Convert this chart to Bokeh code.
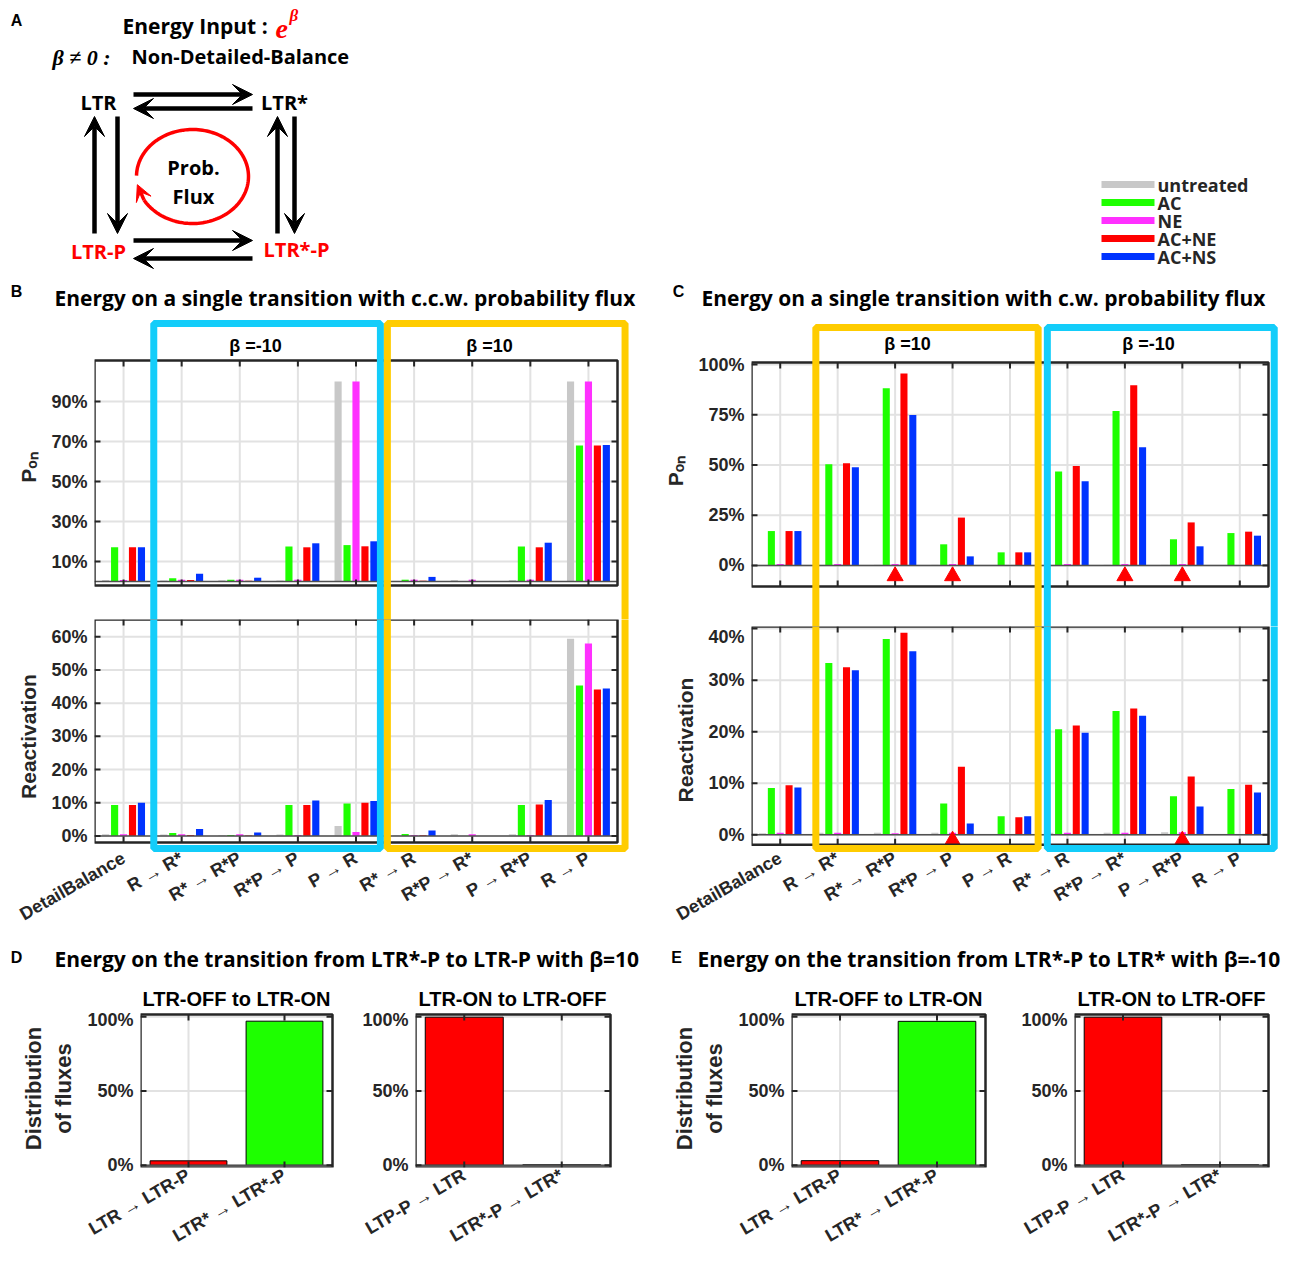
import math
import numpy as np
from bokeh.plotting import figure
from bokeh.layouts import column, row
from bokeh.models import (Range1d, FixedTicker, BoxAnnotation, Arrow, VeeHead, ColumnDataSource)
from bokeh.embed import file_html
from bokeh.resources import INLINE
from bokeh.core.properties import value

# ---------------- data ----------------
series_names = ["untreated", "AC", "NE", "AC+NE", "AC+NS"]
series_colors = ["#c8c8c8", "#1eff00", "#ff30ff", "#ff0000", "#0033ff"]

transitions = ["DetailBalance", "R → R*", "R* → R*P", "R*P → P", "P → R",
               "R* → R", "R*P → R*", "P → R*P", "R → P"]
cat_pos = [1, 2, 3, 4, 5, 6, 7, 8, 9]

# Panel B (c.c.w. flux) -- P_on, %
b_pon_untreated = [0.7, 0.5, 0.6, 0.5, 100.0, 0.3, 0.7, 0.7, 100.0]
b_pon_ac        = [17.1, 1.6, 0.9, 17.5, 18.2, 0.9, 0.0, 17.5, 68.0]
b_pon_ne        = [0.8, 0.9, 0.9, 0.9, 100.0, 0.9, 0.9, 0.9, 100.0]
b_pon_acne      = [17.1, 0.8, 0.4, 17.1, 17.6, 0.4, 0.0, 17.1, 68.0]
b_pon_acns      = [17.1, 3.9, 1.9, 19.1, 20.1, 2.3, 0.2, 19.4, 68.2]
# Panel B -- Reactivation, %
b_re_untreated = [0.5, 0.4, 0.3, 0.4, 3.0, 0.3, 0.5, 0.5, 59.4]
b_re_ac        = [9.3, 0.9, 0.3, 9.3, 9.8, 0.6, 0.0, 9.3, 45.3]
b_re_ne        = [0.5, 0.5, 0.5, 0.3, 1.2, 0.3, 0.5, 0.3, 58.0]
b_re_acne      = [9.3, 0.3, 0.1, 9.3, 10.0, 0.2, 0.0, 9.5, 44.1]
b_re_acns      = [10.0, 2.1, 1.0, 10.7, 10.5, 1.6, 0.0, 10.8, 44.4]

# Panel C (c.w. flux) -- P_on, %
c_pon_untreated = [0.0, 0.0, 0.3, 0.3, 0.0, 0.0, 0.3, 0.3, 0.0]
c_pon_ac        = [17.1, 50.3, 88.2, 10.5, 6.5, 46.8, 76.9, 13.0, 16.1]
c_pon_ne        = [0.7, 0.7, 0.7, 0.7, 0.0, 0.7, 0.7, 0.7, 0.0]
c_pon_acne      = [17.1, 50.8, 95.5, 23.8, 6.5, 49.5, 89.7, 21.4, 16.8]
c_pon_acns      = [17.1, 48.8, 74.9, 4.5, 6.5, 41.9, 58.8, 9.5, 14.8]
# Panel C -- Reactivation, %
c_re_untreated = [0.3, 0.4, 0.4, 0.4, 0.0, 0.4, 0.4, 0.5, 0.0]
c_re_ac        = [9.1, 33.3, 38.0, 6.1, 3.6, 20.5, 24.0, 7.5, 8.9]
c_re_ne        = [0.4, 0.4, 0.3, 0.4, 0.0, 0.4, 0.4, 0.5, 0.0]
c_re_acne      = [9.6, 32.5, 39.2, 13.2, 3.4, 21.2, 24.5, 11.3, 9.7]
c_re_acns      = [9.2, 31.9, 35.6, 2.2, 3.6, 19.8, 23.1, 5.5, 8.2]
# red triangle markers (category positions)
c_pon_marked = [3, 4, 7, 8]
c_re_marked = [4, 8]

# axis ticks
b_pon_yticks = [10, 30, 50, 70, 90]
b_re_yticks = [0, 10, 20, 30, 40, 50, 60]
c_pon_yticks = [0, 25, 50, 75, 100]
c_re_yticks = [0, 10, 20, 30, 40]
flux_yticks = [0, 50, 100]

# Panels D / E -- distribution of fluxes, %
off_on_labels = ["LTR → LTR-P", "LTR* → LTR*-P"]
on_off_labels = ["LTP-P → LTR", "LTR*-P → LTR*"]
d_off_on = [3.0, 97.0]
d_on_off = [99.7, 0.3]
e_off_on = [3.1, 96.9]
e_on_off = [99.7, 0.3]
off_on_colors = ["#ff0000", "#1eff00"]
on_off_colors = ["#ff0000", "#c8c8c8"]

# ---------------- style ----------------
DARK = "#262626"
GRID = "#e2e2e2"
CYAN = "#13cdfa"
YELLOW = "#ffcc00"
RED = "#ff0000"
TICK_FONT = "Liberation Sans"
TITLE_FONT = "Open Sans"
GROUP_SLOT = 0.154
BAR_W = 0.123
TICK_LEN = 6


class Geo:
    """Maps page pixels <-> data units for one panel (axes box + figure frame)."""

    def __init__(self, canvas, L, B, axes_px, lims):
        cx0, cy0, cw, ch = canvas
        self.w, self.h = cw, ch
        self.fl, self.fr = cx0 + L, cx0 + cw
        self.ft, self.fb = cy0, cy0 + ch - B
        al, ar, at, ab = axes_px
        x0, x1, y0, y1 = lims
        self.sx = (ar - al) / (x1 - x0)
        self.sy = (ab - at) / (y1 - y0)
        self.al, self.ab, self.x0, self.y0 = al, ab, x0, y0

    def dx(self, px):
        return self.x0 + (px - self.al) / self.sx

    def dy(self, py):
        return self.y0 + (self.ab - py) / self.sy


def style_axis(ax, size="18px"):
    ax.axis_line_color = None
    ax.major_tick_in = 0
    ax.major_tick_out = 0
    ax.minor_tick_line_color = None
    ax.major_label_text_font = TICK_FONT
    ax.major_label_text_font_style = "bold"
    ax.major_label_text_color = DARK
    ax.major_label_text_font_size = size
    ax.axis_label_text_font = TICK_FONT
    ax.axis_label_text_font_style = "bold"
    ax.axis_label_text_color = DARK
    ax.axis_label_text_font_size = "21px"


def panel(canvas, L, B, axes_px, lims, xticks, yticks, ylabel, xtick_labels, xstand=3):
    g = Geo(canvas, L, B, axes_px, lims)
    p = figure(width=g.w, height=g.h,
               x_range=Range1d(g.dx(g.fl), g.dx(g.fr)), y_range=Range1d(g.dy(g.fb), g.dy(g.ft)),
               output_backend="svg", toolbar_location=None, tools="", title=None,
               min_border_left=L, min_border_right=0, min_border_top=0, min_border_bottom=B)
    p.outline_line_color = None
    p.grid.visible = False
    xa, ya = p.xaxis[0], p.yaxis[0]
    style_axis(xa)
    style_axis(ya)
    ya.ticker = FixedTicker(ticks=list(yticks))
    ya.major_label_overrides = {v: f"{v}%" for v in yticks}
    ya.major_label_standoff = 7
    ya.axis_label = ylabel
    ya.axis_label_standoff = 8
    if xtick_labels is None:
        xa.visible = False
    else:
        xa.ticker = FixedTicker(ticks=list(xticks))
        xa.major_label_overrides = {v: lab for v, lab in zip(xticks, xtick_labels)}
        xa.major_label_orientation = math.pi / 6
        xa.major_label_standoff = xstand
    x0, x1, y0, y1 = lims
    n, m = len(xticks), len(yticks)
    p.segment(x0=list(xticks), x1=list(xticks), y0=[y0] * n, y1=[y1] * n,
              line_color=GRID, line_width=2)
    p.segment(x0=[x0] * m, x1=[x1] * m, y0=list(yticks), y1=list(yticks),
              line_color=GRID, line_width=2)
    return p, g


def finish(p, g, lims, xticks, yticks):
    x0, x1, y0, y1 = lims
    tx, ty = TICK_LEN / g.sx, TICK_LEN / g.sy
    n, m = len(xticks), len(yticks)
    p.segment(x0=[x0], x1=[x1], y0=[0], y1=[0], line_color="#505050", line_width=1.5)
    kw = dict(line_color=DARK, line_width=2)
    p.segment(x0=list(xticks), x1=list(xticks), y0=[y0] * n, y1=[y0 + ty] * n, **kw)
    p.segment(x0=list(xticks), x1=list(xticks), y0=[y1] * n, y1=[y1 - ty] * n, **kw)
    p.segment(x0=[x0] * m, x1=[x0 + tx] * m, y0=list(yticks), y1=list(yticks), **kw)
    p.segment(x0=[x1] * m, x1=[x1 - tx] * m, y0=list(yticks), y1=list(yticks), **kw)
    p.add_layout(BoxAnnotation(left=x0, right=x1, bottom=y0, top=y1, fill_color=None,
                               fill_alpha=0, line_color=DARK, line_alpha=1, line_width=2.5))


def grouped_bars(p, series_vals):
    n = len(series_vals)
    for k, (vals, color) in enumerate(zip(series_vals, series_colors)):
        off = (k - (n - 1) / 2) * GROUP_SLOT
        src = ColumnDataSource(dict(x=[c + off for c in cat_pos], top=vals))
        p.vbar(x="x", top="top", bottom=0, width=BAR_W, source=src,
               fill_color=color, line_color=None)


def colored_box(p, left, right, top, bottom, color):
    p.add_layout(BoxAnnotation(left=left, right=right, top=top, bottom=bottom,
                               fill_color=None, fill_alpha=0, line_color=color,
                               line_alpha=1, line_width=7))


def beta_label(p, g, px, py, text):
    p.text(x=[g.dx(px)], y=[g.dy(py)], text=[text], text_font=value(TICK_FONT),
           text_font_style="bold", text_font_size="18px", text_align="center",
           text_baseline="middle", text_color="black")


# ---------------- panel B ----------------
B_AX_X = (94, 617)
bt_lims = (0.5, 9.5, -2, 110.5)
bt, g = panel((0, 315, 645, 304), 94, 0, (*B_AX_X, 360, 585), bt_lims, cat_pos, b_pon_yticks, "Pₒₙ", None)
grouped_bars(bt, [b_pon_untreated, b_pon_ac, b_pon_ne, b_pon_acne, b_pon_acns])
finish(bt, g, bt_lims, cat_pos, b_pon_yticks)
beta_label(bt, g, 255, 345, "β =-10")
beta_label(bt, g, 489, 345, "β =10")
colored_box(bt, 1.52, 5.42, g.dy(323), g.dy(700), CYAN)
colored_box(bt, 5.54, 9.63, g.dy(323), g.dy(700), YELLOW)

bb_lims = (0.5, 9.5, -2, 65.2)
bb, g = panel((0, 619, 645, 316), 94, 81, (*B_AX_X, 619, 843), bb_lims, cat_pos, b_re_yticks, "Reactivation", transitions)
grouped_bars(bb, [b_re_untreated, b_re_ac, b_re_ne, b_re_acne, b_re_acns])
finish(bb, g, bb_lims, cat_pos, b_re_yticks)
colored_box(bb, 1.52, 5.42, g.dy(500), g.dy(849), CYAN)
colored_box(bb, 5.54, 9.63, g.dy(500), g.dy(849), YELLOW)

# ---------------- panel C ----------------
C_AX_X = (751, 1268)
ct_lims = (0.5, 9.5, -10.5, 101)
ct, g = panel((645, 315, 648, 311), 106, 0, (*C_AX_X, 362, 586), ct_lims, cat_pos, c_pon_yticks, "Pₒₙ", None)
grouped_bars(ct, [c_pon_untreated, c_pon_ac, c_pon_ne, c_pon_acne, c_pon_acns])
finish(ct, g, ct_lims, cat_pos, c_pon_yticks)
ct.scatter(x=c_pon_marked, y=[-5.3] * len(c_pon_marked), marker="triangle", size=16,
           fill_color=RED, line_color=RED)
beta_label(ct, g, 907, 343, "β =10")
beta_label(ct, g, 1148, 343, "β =-10")
colored_box(ct, 1.62, 5.49, g.dy(327), g.dy(700), YELLOW)
colored_box(ct, 5.65, 9.60, g.dy(327), g.dy(700), CYAN)

cb_lims = (0.5, 9.5, -1.9, 40.4)
cb, g = panel((645, 626, 648, 309), 106, 78, (*C_AX_X, 626, 848), cb_lims, cat_pos, c_re_yticks, "Reactivation", transitions)
grouped_bars(cb, [c_re_untreated, c_re_ac, c_re_ne, c_re_acne, c_re_acns])
finish(cb, g, cb_lims, cat_pos, c_re_yticks)
cb.scatter(x=c_re_marked, y=[-1.1] * len(c_re_marked), marker="triangle", size=16,
           fill_color=RED, line_color=RED)
colored_box(cb, 1.62, 5.49, g.dy(500), g.dy(852), YELLOW)
colored_box(cb, 5.65, 9.60, g.dy(500), g.dy(852), CYAN)

# ---------------- panels D / E ----------------
flux_lims = (0.5, 2.5, -1.5, 101.5)


def flux_panel(canvas, L, axes_x, vals, colors, labels, ylabel):
    p, g = panel(canvas, L, 93, (*axes_x, 1014, 1167), flux_lims, [1, 2], flux_yticks, ylabel, labels,
                 xstand=6)
    src = ColumnDataSource(dict(x=[1, 2], top=vals, color=colors))
    p.vbar(x="x", top="top", bottom=0, width=0.8, source=src, fill_color="color",
           line_color="black", line_width=1)
    finish(p, g, flux_lims, [1, 2], flux_yticks)
    p.yaxis[0].axis_label_text_font_size = "22px"
    return p


d1 = flux_panel((0, 1009, 345, 251), 140, (140, 332), d_off_on, off_on_colors, off_on_labels, "Distribution\nof fluxes")
d2 = flux_panel((345, 1009, 300, 251), 70, (415, 610), d_on_off, on_off_colors, on_off_labels, "")
e1 = flux_panel((645, 1009, 355, 251), 146, (791, 985), e_off_on, off_on_colors, off_on_labels, "Distribution\nof fluxes")
e2 = flux_panel((1000, 1009, 293, 251), 74, (1074, 1268), e_on_off, on_off_colors, on_off_labels, "")

# header strip for D / E
hdr = figure(width=1293, height=74, x_range=Range1d(0, 1293), y_range=Range1d(1009, 935),
             x_axis_type=None, y_axis_type=None, output_backend="svg", toolbar_location=None,
             tools="", min_border=0, title=None)
hdr.outline_line_color = None
hdr.grid.visible = False
hdr.text(x=[16, 676], y=[957, 957], text=["D", "E"], text_font=value(TICK_FONT),
         text_font_style="bold", text_font_size="16px", text_baseline="middle", text_align="center")
hdr.text(x=[54, 697], y=[958, 958],
         text=["Energy on the transition from LTR*-P to LTR-P with β=10",
               "Energy on the transition from LTR*-P to LTR* with β=-10"],
         text_font=value(TITLE_FONT), text_font_style="bold", text_font_size="21px",
         text_baseline="middle", text_align="left")
sub_titles = ["LTR-OFF to LTR-ON", "LTR-ON to LTR-OFF", "LTR-OFF to LTR-ON", "LTR-ON to LTR-OFF"]
hdr.text(x=[236, 512, 888, 1171], y=[998] * 4, text=sub_titles, text_font=value(TICK_FONT),
         text_font_style="bold", text_font_size="20px", text_baseline="middle", text_align="center")

# ---------------- panel A (schematic) + legend + B/C headings ----------------
top = figure(width=1293, height=315, x_range=Range1d(0, 1293), y_range=Range1d(315, 0),
             x_axis_type=None, y_axis_type=None, output_backend="svg", toolbar_location=None,
             tools="", min_border=0, title=None)
top.outline_line_color = None
top.grid.visible = False

top.text(x=[16, 16, 678], y=[20, 291, 291], text=["A", "B", "C"], text_font=value(TICK_FONT),
         text_font_style="bold", text_font_size="16px", text_baseline="middle", text_align="center")
top.text(x=[54, 701], y=[297, 297],
         text=["Energy on a single transition with c.c.w. probability flux",
               "Energy on a single transition with c.w. probability flux"],
         text_font=value(TITLE_FONT), text_font_style="bold", text_font_size="21px",
         text_baseline="middle", text_align="left")

top.text(x=[122], y=[25], text=["Energy Input :"], text_font=value(TITLE_FONT),
         text_font_style="bold", text_font_size="21px", text_baseline="middle")
top.text(x=[275], y=[28], text=["e"], text_font=value("Liberation Serif"), text_font_style="bold italic",
         text_font_size="28px", text_baseline="middle", text_color=RED)
top.text(x=[289], y=[15], text=["β"], text_font=value("Liberation Serif"), text_font_style="bold italic",
         text_font_size="17px", text_baseline="middle", text_color=RED)
top.text(x=[52], y=[57], text=["β ≠ 0 :"], text_font=value("Liberation Serif"), text_font_style="bold italic",
         text_font_size="22px", text_baseline="middle")
top.text(x=[131], y=[56], text=["Non-Detailed-Balance"], text_font=value(TITLE_FONT),
         text_font_style="bold", text_font_size="20px", text_baseline="middle")

node_names = ["LTR", "LTR*", "LTR-P", "LTR*-P"]
node_x = [98, 284, 98, 296]
node_y = [102, 102, 251, 249]
node_col = ["black", "black", RED, RED]
top.text(x=node_x, y=node_y, text=node_names, text_color=node_col, text_font=value(TITLE_FONT),
         text_font_style="bold", text_font_size="20px", text_align="center", text_baseline="middle")

arrows = [(133, 94, 252, 94), (252, 108, 133, 108), (133, 240, 252, 240), (252, 258, 133, 258),
          (94, 233, 94, 116), (117, 116, 117, 233), (277, 233, 277, 116), (294, 116, 294, 233)]
for (x0, y0, x1, y1) in arrows:
    top.add_layout(Arrow(x_start=x0, y_start=y0, x_end=x1, y_end=y1, line_width=4.5,
                         line_color="black",
                         end=VeeHead(size=20, fill_color="black", line_color="black")))

cx, cy, rx, ry = 192, 176, 56, 47
tt = np.radians(np.linspace(181, 510, 150))
top.line(cx + rx * np.cos(tt), cy + ry * np.sin(tt), line_color=RED, line_width=3.5)
a0, a1 = math.radians(150), math.radians(170)
top.add_layout(Arrow(x_start=cx + rx * math.cos(a0), y_start=cy + ry * math.sin(a0),
                     x_end=cx + rx * math.cos(a1), y_end=cy + ry * math.sin(a1),
                     line_width=3.5, line_color=RED,
                     end=VeeHead(size=16, fill_color=RED, line_color=RED)))
top.text(x=[193, 193], y=[167, 196], text=["Prob.", "Flux"], text_font=value(TITLE_FONT),
         text_font_style="bold", text_font_size="20px", text_align="center", text_baseline="middle")

# legend
leg_y = [184 + 18 * i for i in range(len(series_names))]
top.segment(x0=[1101] * len(leg_y), x1=[1154] * len(leg_y), y0=leg_y, y1=leg_y,
            line_color=series_colors, line_width=7)
top.text(x=[1157] * len(leg_y), y=leg_y, text=series_names, text_font=value(TITLE_FONT),
         text_font_style="bold", text_font_size="18px", text_baseline="middle", text_color=DARK)

layout = column(
    top,
    row(column(bt, bb, spacing=0), column(ct, cb, spacing=0), spacing=0),
    hdr,
    row(d1, d2, e1, e2, spacing=0),
    spacing=0,
)

open("out.html", "w").write(file_html(layout, INLINE))
